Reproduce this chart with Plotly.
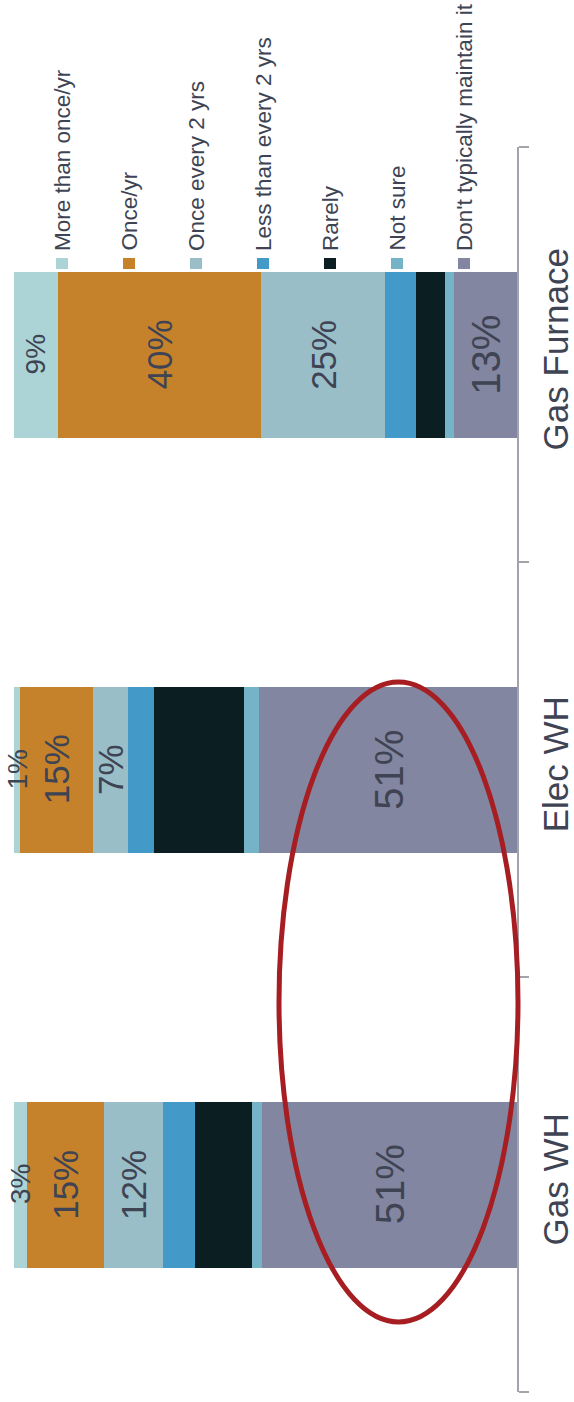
import plotly.graph_objects as go

categories = ["Gas WH", "Elec WH", "Gas Furnace"]
series_names = ["More than once/yr", "Once/yr", "Once every 2 yrs",
                "Less than every 2 yrs", "Rarely", "Not sure",
                "Don't typically maintain it"]

more_than_once = [2.6, 1.2, 8.9]
once_yr = [15.2, 14.6, 40.4]
once_every_2 = [11.9, 6.8, 24.6]
less_than_every_2 = [6.2, 5.3, 6.2]
rarely = [11.5, 17.9, 5.6]
not_sure = [2.0, 3.0, 1.8]
dont_maintain = [50.6, 51.2, 12.6]

series_values = [more_than_once, once_yr, once_every_2, less_than_every_2,
                 rarely, not_sure, dont_maintain]
labeled_series = [0, 1, 2, 6]

colors = ["#acd4d6", "#c5822b", "#9abec8", "#4399c7", "#0b1f22", "#75b4c6", "#8386a0"]
label_sizes = [28, 35, 35, 0, 0, 0, 40]
TEXT = "#3e4453"
FONT = "Liberation Sans, Arial, sans-serif"

W, H = 574, 1402
L, R, T, B = 14, 57, 147, 10
pw, ph = W - L - R, H - T - B

def px_x(x):
    return (x - L) / pw

def px_y(y):
    return (H - B - y) / ph

fig = go.Figure()
# stacking starts at the axis (value 0, right) with the last series
order = list(range(len(series_names)))[::-1]
for i in order:
    fig.add_trace(go.Bar(
        y=categories, x=series_values[i], name=series_names[i], orientation="h",
        marker=dict(color=colors[i], line=dict(width=0)), width=0.4,
        hoverinfo="x+name", showlegend=False))

annotations = []
# value labels centred in segments
for c, cat in enumerate(categories):
    cum = 0.0
    for i in order:
        v = series_values[i][c]
        if i in labeled_series:
            annotations.append(dict(
                x=cum + v / 2, y=cat, xref="x", yref="y", text=f"{v:.0f}%",
                textangle=-90, showarrow=False, xanchor="center", yanchor="middle",
                font=dict(size=label_sizes[i], color=TEXT, family=FONT)))
        cum += v

shapes = []
# custom rotated legend
for i, name in enumerate(series_names):
    cx = 62 + 67 * i
    shapes.append(dict(type="rect", xref="paper", yref="paper",
                       x0=px_x(cx - 6), x1=px_x(cx + 6), y0=px_y(269), y1=px_y(258),
                       fillcolor=colors[i], line=dict(width=0)))
    annotations.append(dict(x=px_x(cx), y=px_y(253), xref="paper", yref="paper",
                            text=name, textangle=-90, showarrow=False,
                            xanchor="center", yanchor="bottom",
                            font=dict(size=22.5, color=TEXT, family=FONT)))

# red highlight ellipse
shapes.append(dict(type="circle", xref="paper", yref="paper",
                   x0=px_x(279), x1=px_x(518), y0=px_y(1322), y1=px_y(682),
                   line=dict(color="#a61e22", width=5)))

fig.update_layout(
    barmode="stack", width=W, height=H,
    margin=dict(l=L, r=R, t=T, b=B, autoexpand=False),
    paper_bgcolor="white", plot_bgcolor="white",
    showlegend=False, annotations=annotations, shapes=shapes,
    xaxis=dict(range=[100, 0], visible=False, fixedrange=True),
    yaxis=dict(side="right", range=[-0.5, 2.5], showline=True, linecolor="#a3a3ab",
               linewidth=1.5, ticks="outside", ticklen=10, tickcolor="#a3a3ab",
               tickwidth=1.5, tickson="boundaries", tickangle=-90, showgrid=False,
               ticklabelstandoff=7, automargin=False,
               tickfont=dict(size=35, color=TEXT, family=FONT), zeroline=False),
)

fig.write_html("out.html")
